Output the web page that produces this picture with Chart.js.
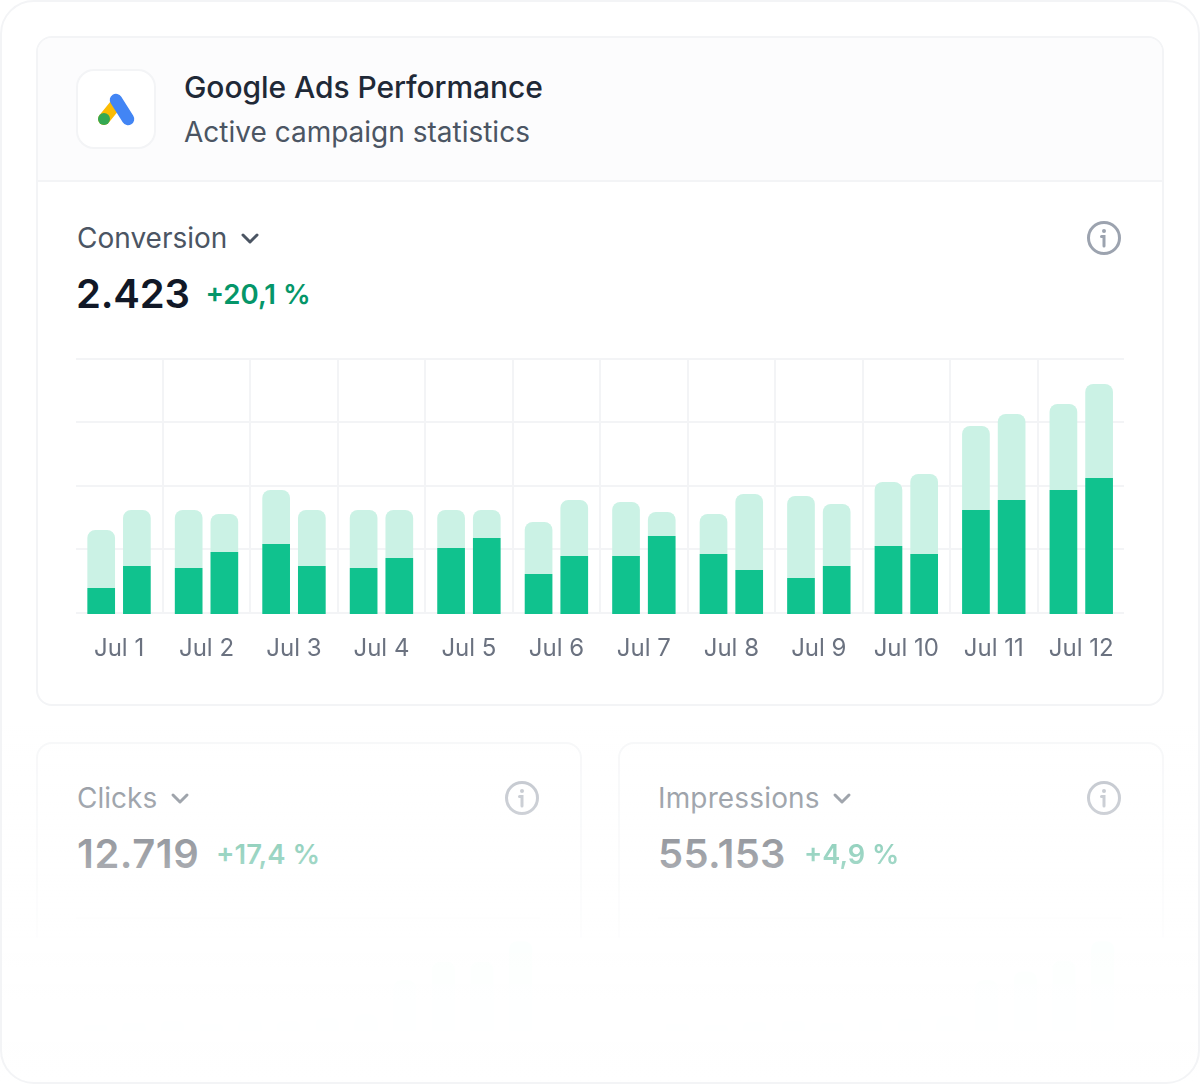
<!DOCTYPE html>
<html><head><meta charset="utf-8">
<script src="https://cdn.jsdelivr.net/npm/chart.js@4"></script>
<style>
html,body{margin:0;padding:0;background:#fff;width:1200px;height:1084px;overflow:hidden;font-family:Inter,sans-serif}
.abs,.t{position:absolute}
.t{white-space:nowrap;line-height:1}
.frame{left:0;top:0;width:1196px;height:1080px;border:2px solid #f3f4f6;border-radius:34px;z-index:5;pointer-events:none}
.card{box-sizing:border-box;border:2px solid #f3f4f6;border-radius:16px;background:#fff}
canvas{position:absolute}
</style></head><body>
<div class="abs frame"></div>
<div class="abs card" style="left:36px;top:36px;width:1128px;height:670px"></div>
<div class="abs" style="left:38px;top:38px;width:1124px;height:142px;background:#fcfcfd;border-bottom:2px solid #f3f4f6;border-radius:14px 14px 0 0"></div>
<div class="abs" style="box-sizing:border-box;left:76px;top:69px;width:80px;height:80px;background:#fff;border:2px solid #f3f4f6;border-radius:18px"></div>
<svg class="abs" style="left:76px;top:69px" width="80" height="80">
<line x1="41" y1="34" x2="28" y2="50" stroke="#fbbc04" stroke-width="12" stroke-linecap="round"/>
<line x1="40" y1="31" x2="52" y2="50" stroke="#4285f4" stroke-width="12.5" stroke-linecap="round"/>
<circle cx="28" cy="50" r="6" fill="#34a853"/></svg>
<div class="t" id="title" style="left:184px;top:72px;font-size:30px;font-weight:500;letter-spacing:-.07px;color:#1f2937">Google Ads Performance</div>
<div class="t" style="left:184px;top:118px;font-size:28px;color:#4b5563">Active campaign statistics</div>

<div class="t" style="left:77px;top:224px;font-size:28px;color:#4b5563">Conversion</div>
<svg class="abs" style="left:239px;top:231px" width="22" height="16"><path d="M4 4l7 7 7-7" fill="none" stroke="#4b5563" stroke-width="3" stroke-linecap="round" stroke-linejoin="round"/></svg>
<svg class="abs" style="left:1086px;top:220px" width="36" height="36"><circle cx="18" cy="18" r="15.5" fill="none" stroke="#9ca3af" stroke-width="3"/><path d="M15.5 16.5H18V26" fill="none" stroke="#9ca3af" stroke-width="3" stroke-linecap="round"/><circle cx="18" cy="11" r="2" fill="#9ca3af"/></svg>
<div class="t" style="left:76px;top:274px;font-size:40px;font-weight:600;letter-spacing:-.2px;color:#111827">2.423</div>
<div class="t" style="left:205.5px;top:281px;font-size:27.6px;font-weight:560;color:#059669">+20,1 %</div>
<canvas id="main" width="1090" height="340" style="left:60px;top:340px;width:1090px;height:340px;clip-path:inset(0 26px 0 16px)"></canvas>

<div class="abs card" style="left:36px;top:742px;width:546px;height:300px"></div>
<div class="abs card" style="left:618px;top:742px;width:546px;height:300px"></div>
<canvas id="miniA" width="480" height="140" style="left:68px;top:908px;width:480px;height:140px"></canvas>
<canvas id="miniB" width="480" height="140" style="left:650px;top:908px;width:480px;height:140px"></canvas>

<div class="t" style="left:77px;top:784px;font-size:28px;color:#4b5563">Clicks</div>
<svg class="abs" style="left:169px;top:791px" width="22" height="16"><path d="M4 4l7 7 7-7" fill="none" stroke="#4b5563" stroke-width="3" stroke-linecap="round" stroke-linejoin="round"/></svg>
<svg class="abs" style="left:504px;top:780px" width="36" height="36"><circle cx="18" cy="18" r="15.5" fill="none" stroke="#9ca3af" stroke-width="3"/><path d="M15.5 16.5H18V26" fill="none" stroke="#9ca3af" stroke-width="3" stroke-linecap="round"/><circle cx="18" cy="11" r="2" fill="#9ca3af"/></svg>
<div class="t" style="left:77px;top:834px;font-size:40px;font-weight:600;letter-spacing:.5px;color:#111827">12.719</div>
<div class="t" style="left:216px;top:841px;font-size:27.5px;font-weight:560;color:#059669">+17,4 %</div>

<div class="t" style="left:658px;top:784px;font-size:28px;letter-spacing:.15px;color:#4b5563">Impressions</div>
<svg class="abs" style="left:831px;top:791px" width="22" height="16"><path d="M4 4l7 7 7-7" fill="none" stroke="#4b5563" stroke-width="3" stroke-linecap="round" stroke-linejoin="round"/></svg>
<svg class="abs" style="left:1086px;top:780px" width="36" height="36"><circle cx="18" cy="18" r="15.5" fill="none" stroke="#9ca3af" stroke-width="3"/><path d="M15.5 16.5H18V26" fill="none" stroke="#9ca3af" stroke-width="3" stroke-linecap="round"/><circle cx="18" cy="11" r="2" fill="#9ca3af"/></svg>
<div class="t" style="left:658px;top:834px;font-size:40px;font-weight:600;letter-spacing:.3px;color:#111827">55.153</div>
<div class="t" style="left:804px;top:841px;font-size:27.2px;font-weight:560;color:#059669">+4,9 %</div>

<div class="abs" style="left:0;top:720px;width:1200px;height:364px;z-index:4;background:linear-gradient(to bottom,rgba(255,255,255,.3) 0,rgba(255,255,255,.47) 78px,rgba(255,255,255,.6) 134px,rgba(255,255,255,.82) 217px,rgba(255,255,255,.99) 218px,rgba(255,255,255,.996) 280px,#fff 364px)"></div>

<script>
const days=["Jul 1","Jul 2","Jul 3","Jul 4","Jul 5","Jul 6","Jul 7","Jul 8","Jul 9","Jul 10","Jul 11","Jul 12"];
const yTicks=[0.5,32.5,64,96,127.5];
const darkA=[13,23,35,23,33,20,29,30,18,34,52,62];
const darkB=[24,31,24,28,38,29,39,22,24,30,57,68];
const lightA=[29,29,27,29,19,26,27,20,41,32,42,43];
const lightB=[28,19,28,24,14,28,12,38,31,40,43,47];
const miniCategories=["1","2","3","4","5","6","7","8","9","10","11","12"];
const clicksBars=[8,10,12,9,14,12,16,20,58,79,79,102];
const impressionsBars=[9,8,11,13,10,14,15,18,58,68,80,102];

const grid="#f3f4f6", dark="#10c28e", light="#cbf2e5";
Chart.defaults.font.family="Inter, sans-serif";
const rounded={topLeft:8,topRight:8,bottomLeft:0,bottomRight:0};
new Chart(document.getElementById("main"),{
  type:"bar",
  data:{labels:days,datasets:[
    {data:darkA,backgroundColor:dark,stack:"a"},
    {data:lightA,backgroundColor:light,stack:"a",borderRadius:rounded,borderSkipped:false},
    {data:darkB,backgroundColor:dark,stack:"b"},
    {data:lightB,backgroundColor:light,stack:"b",borderRadius:rounded,borderSkipped:false}
  ]},
  options:{
    responsive:false,animation:false,
    layout:{padding:{left:15.3,right:25,top:19,bottom:0}},
    categoryPercentage:.816,barPercentage:.776,
    plugins:{legend:{display:false},tooltip:{enabled:false}},
    scales:{
      x:{stacked:true,
        afterFit:s=>{s.height=66},
        grid:{color:c=>(c.index===0||c.index===undefined)?"transparent":grid,lineWidth:2,drawTicks:false},
        border:{display:false},
        ticks:{color:"#6b7280",font:{size:24},padding:20,maxRotation:0,autoSkip:false}},
      y:{stacked:true,min:0,max:127.5,
        afterFit:s=>{s.width=0},
        afterBuildTicks:s=>{s.ticks=yTicks.map(v=>({value:v}))},
        grid:{color:grid,lineWidth:2,drawTicks:false},
        border:{display:false},
        ticks:{display:false}}
    }
  }
});
function mini(id,vals){
  new Chart(document.getElementById(id),{
    type:"bar",
    data:{labels:miniCategories,datasets:[{data:vals,backgroundColor:dark,borderRadius:{topLeft:8,topRight:8},borderSkipped:false}]},
    options:{responsive:false,animation:false,
      layout:{padding:{left:8,right:8,top:10,bottom:8}},
      categoryPercentage:.8,barPercentage:.75,
      plugins:{legend:{display:false},tooltip:{enabled:false}},
      scales:{
        x:{grid:{display:false},border:{display:false},ticks:{display:false}},
        y:{min:0,max:128,afterFit:s=>{s.width=0},
          afterBuildTicks:s=>{s.ticks=[0,32,64,96,128].map(v=>({value:v}))},
          grid:{color:"#fafafb",lineWidth:2,drawTicks:false},border:{display:false},ticks:{display:false}}
      }}
  });
}
mini("miniA",clicksBars);
mini("miniB",impressionsBars);
</script>
</body></html>
